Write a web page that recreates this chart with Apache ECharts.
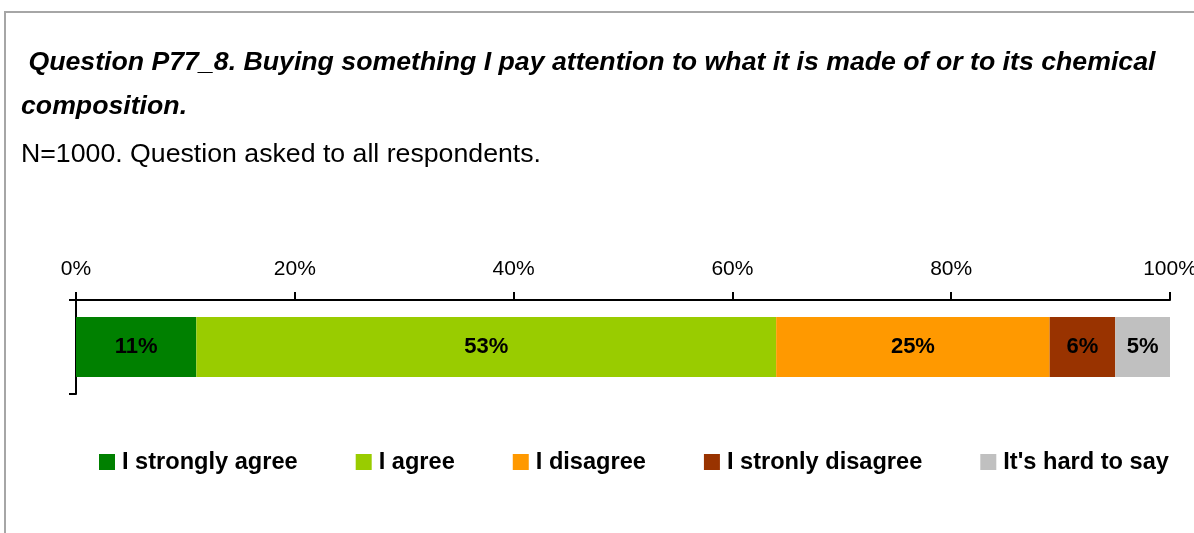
<!DOCTYPE html>
<html>
<head>
<meta charset="utf-8">
<style>
  html, body { margin: 0; padding: 0; background: #ffffff; }
  #chart { width: 1194px; height: 533px; }
</style>
<script src="https://cdn.jsdelivr.net/npm/echarts@6/dist/echarts.min.js"></script>
</head>
<body>
<div id="chart"></div>
<script>
// Answer shares (%) for the single question bar
const categories = ['P77_8'];
const seriesNames = ['I strongly agree', 'I agree', 'I disagree', 'I stronly disagree', "It's hard to say"];
const stronglyAgree = [11];
const agree = [53];
const disagree = [25];
const stronglyDisagree = [6];
const hardToSay = [5];
const xTicks = [0, 20, 40, 60, 80, 100];

const colors = ['#008000', '#99CC00', '#FF9900', '#993300', '#C0C0C0'];
const values = [stronglyAgree, agree, disagree, stronglyDisagree, hardToSay];
const FONT = '"Liberation Sans", Arial, sans-serif';

const chart = echarts.init(document.getElementById('chart'));

const series = seriesNames.map((name, i) => ({
  name: name,
  type: 'bar',
  stack: 'total',
  barWidth: 60,
  data: values[i],
  itemStyle: { color: colors[i] },
  label: {
    show: true,
    position: 'inside',
    formatter: '{c}%',
    color: '#000',
    fontFamily: FONT,
    fontWeight: 'bold',
    fontSize: 22
  },
  emphasis: { disabled: true }
}));

const titleStyle = { fontFamily: FONT, fontSize: 26.7, fontWeight: 'bold', fontStyle: 'italic', color: '#000' };

chart.setOption({
  animation: false,
  backgroundColor: '#ffffff',
  title: [
    {
      text: ' Question P77_8. Buying something I pay attention to what it is made of or to its chemical',
      left: 21, top: 49, padding: 0,
      textStyle: titleStyle
    },
    {
      text: 'composition.',
      left: 21, top: 93, padding: 0,
      textStyle: titleStyle
    },
    {
      text: 'N=1000. Question asked to all respondents.',
      left: 21, top: 141, padding: 0,
      textStyle: { fontFamily: FONT, fontSize: 26.7, fontWeight: 'normal', color: '#000' }
    }
  ],
  graphic: [
    {
      type: 'rect',
      shape: { x: 5, y: 12, width: 1300, height: 600 },
      style: { fill: 'none', stroke: '#a6a6a6', lineWidth: 2 },
      silent: true
    }
  ],
  legend: {
    left: 99,
    top: 450,
    padding: 0,
    icon: 'rect',
    itemWidth: 16,
    itemHeight: 16,
    itemGap: 58,
    selectedMode: false,
    data: seriesNames,
    textStyle: { fontFamily: FONT, fontSize: 23.6, fontWeight: 'bold', color: '#000', padding: [0, 0, 0, 2] }
  },
  grid: { left: 76, right: 24, top: 300, height: 94, containLabel: false, outerBoundsMode: 'none' },
  xAxis: {
    type: 'value',
    position: 'top',
    min: xTicks[0],
    max: xTicks[xTicks.length - 1],
    interval: 20,
    axisLine: { show: true, lineStyle: { color: '#000', width: 2 } },
    axisTick: { show: true, length: 8, lineStyle: { color: '#000', width: 2 } },
    splitLine: { show: false },
    axisLabel: {
      formatter: '{value}%',
      fontFamily: FONT,
      fontSize: 21,
      color: '#000',
      margin: 20
    }
  },
  yAxis: {
    type: 'category',
    data: categories,
    axisLine: { show: true, lineStyle: { color: '#000', width: 2 } },
    axisTick: { show: true, length: 7, lineStyle: { color: '#000', width: 2 } },
    axisLabel: { show: false },
    splitLine: { show: false }
  },
  series: series
});
</script>
</body>
</html>
